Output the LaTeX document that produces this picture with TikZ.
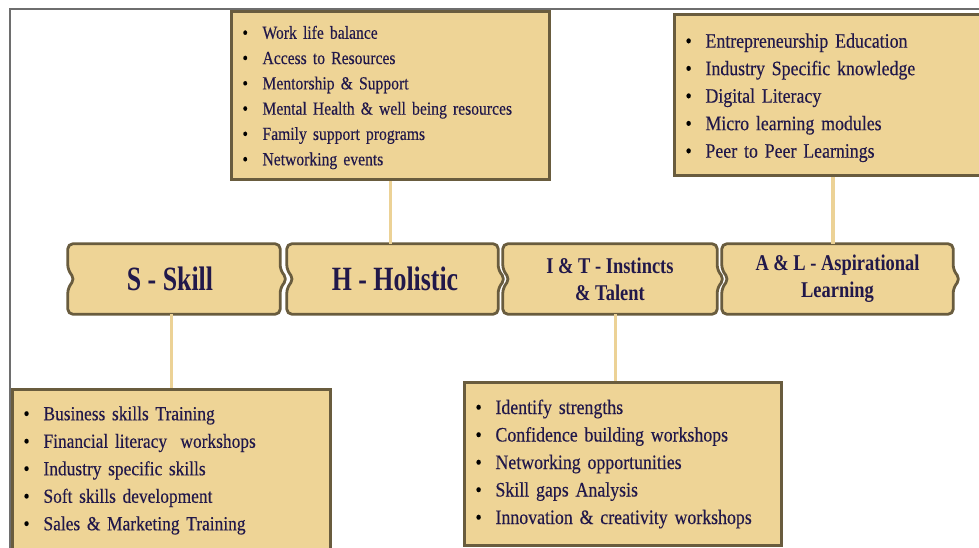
\documentclass[tikz,border=0pt]{standalone}
\usepackage{fontspec}
\setmainfont{Liberation Serif}
\newfontfamily\listfont[FakeStretch=0.87,FakeBold=0.3]{Liberation Serif}
\newfontfamily\narrowlistfont[FakeStretch=0.85,FakeBold=0.3]{Liberation Serif}
\newfontfamily\tagfont[FakeStretch=0.76]{Liberation Serif}
\newfontfamily\smalltagfont[FakeStretch=0.82]{Liberation Serif}
\usetikzlibrary{calc}

\definecolor{boxfill}{RGB}{238,212,150}
\definecolor{boxedge}{RGB}{105,92,62}
\definecolor{inktext}{RGB}{33,24,74}
\definecolor{linkline}{RGB}{236,210,150}
\definecolor{framegray}{RGB}{110,110,110}

\pgfdeclarelayer{back}
\pgfsetlayers{back,main}

\tikzset{
  listbox/.style={draw=boxedge, fill=boxfill, line width=3pt, anchor=north west,
    inner xsep=11pt, inner ysep=0pt, align=left, text=inktext},
  stagebox/.style={minimum height=70pt, inner sep=0pt, align=center, text=inktext},
  stageedge/.style={draw=boxedge, fill=boxfill, line width=2.8pt,
    rounded corners=5pt, line join=round},
  link/.style={draw=linkline, line width=3.5pt},
  frameline/.style={draw=framegray, line width=1.3pt},
}

% bullet column of the lists
\newcommand\listdot{\makebox[20pt][l]{\textcolor{black}{\textbullet}}}
% tab-shaped outline around a stage node: notch on the left, point on the right
\newcommand\stageshape[1]{%
  \path[stageedge] (#1.north west) -- (#1.north east)
    -- ($(#1.east)+(0,-9)$) -- ($(#1.east)+(7,0)$) -- ($(#1.east)+(0,9)$)
    -- (#1.south east) -- (#1.south west)
    -- ($(#1.west)+(0,9)$) -- ($(#1.west)+(7,0)$) -- ($(#1.west)+(0,-9)$)
    -- cycle;}

\begin{document}
\begin{tikzpicture}[x=1pt,y=-1pt]
\useasboundingbox (0,0) rectangle (979,548);

% outer frame
\draw[frameline] (10,548) -- (10,9) -- (979,9);

% stages
\node[stagebox, minimum width=212pt, font=\tagfont\bfseries\fontsize{34pt}{40pt}\selectfont]
  (s) at (174,279) {\hspace{-8pt}S - Skill};
\node[stagebox, minimum width=211pt, font=\tagfont\bfseries\fontsize{34pt}{40pt}\selectfont]
  (h) at (392.5,279) {\hspace{5pt}H - Holistic};
\node[stagebox, minimum width=214pt, font=\smalltagfont\bfseries\fontsize{22.5pt}{27pt}\selectfont]
  (it) at (610,279) {I \& T - Instincts\\ \& Talent};
\node[stagebox, minimum width=231pt, font=\smalltagfont\bfseries\fontsize{22.5pt}{27pt}\selectfont]
  (al) at (837.5,279) {A \& L - Aspirational\\ Learning};

% lists
\node[listbox, minimum width=318pt, minimum height=168pt, text width=296pt,
  font=\narrowlistfont\fontsize{18.4pt}{25.3pt}\selectfont] (hbox) at (230,10) {%
  \rule{0pt}{17pt}\listdot Work life balance\\
  \listdot Access to Resources\\
  \listdot Mentorship \& Support\\
  \listdot Mental Health \& well being resources\\
  \listdot Family support programs\\
  \listdot Networking events};

\node[listbox, minimum width=317pt, minimum height=161pt, text width=295pt,
  font=\listfont\fontsize{20.5pt}{27.5pt}\selectfont] (albox) at (673,13) {%
  \rule{0pt}{19.8pt}\listdot Entrepreneurship Education\\
  \listdot Industry Specific knowledge\\
  \listdot Digital Literacy\\
  \listdot Micro learning modules\\
  \listdot Peer to Peer Learnings};

\node[listbox, minimum width=318pt, minimum height=162pt, text width=296pt,
  font=\listfont\fontsize{20pt}{27.5pt}\selectfont] (skbox) at (11,388) {%
  \listdot Business skills Training\\
  \listdot Financial literacy\ \ workshops\\
  \listdot Industry specific skills\\
  \listdot Soft skills development\\
  \listdot Sales \& Marketing Training};

\node[listbox, minimum width=317pt, minimum height=163pt, text width=295pt,
  font=\listfont\fontsize{20.5pt}{27.5pt}\selectfont] (itbox) at (463,381) {%
  \listdot Identify strengths\\
  \listdot Confidence building workshops\\
  \listdot Networking opportunities\\
  \listdot Skill gaps Analysis\\
  \listdot Innovation \& creativity workshops};

\begin{pgfonlayer}{back}
  \stageshape{s}
  \stageshape{h}
  \stageshape{it}
  \stageshape{al}
  \draw[link] (skbox.north) -- (skbox.north |- s.south);
  \draw[link] (hbox.south) -- (hbox.south |- h.north);
  \draw[link] ([xshift=-7.5pt]itbox.north) -- ([xshift=-7.5pt]itbox.north |- it.south);
  \draw[link] (albox.south) -- (albox.south |- al.north);
\end{pgfonlayer}
\end{tikzpicture}
\end{document}
